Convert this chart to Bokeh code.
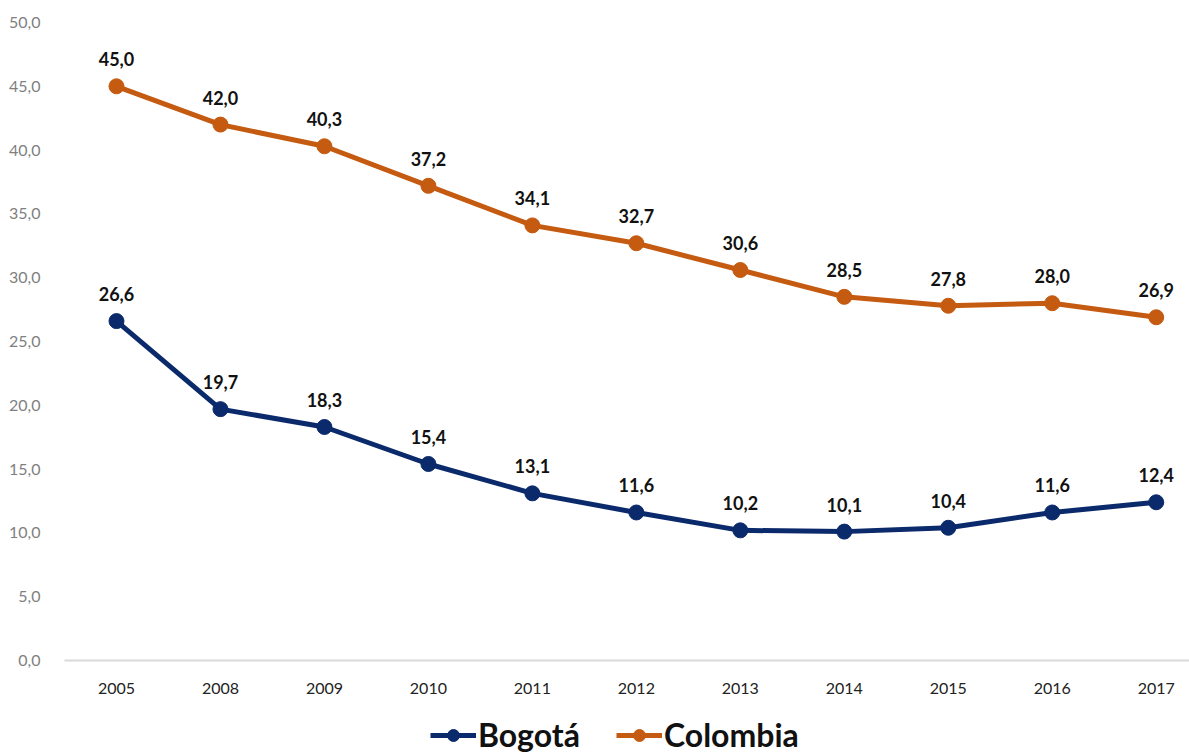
from bokeh.plotting import figure
from bokeh.layouts import column
from bokeh.models import ColumnDataSource, Legend, LegendItem, FixedTicker, Range1d
from bokeh.core.properties import value
from bokeh.embed import file_html
from bokeh.resources import INLINE

years = ["2005", "2008", "2009", "2010", "2011", "2012", "2013", "2014", "2015", "2016", "2017"]
bogota = [26.6, 19.7, 18.3, 15.4, 13.1, 11.6, 10.2, 10.1, 10.4, 11.6, 12.4]
colombia = [45.0, 42.0, 40.3, 37.2, 34.1, 32.7, 30.6, 28.5, 27.8, 28.0, 26.9]
y_ticks = [0, 5, 10, 15, 20, 25, 30, 35, 40, 45, 50]
series_names = ["Bogotá", "Colombia"]

NAVY = "#0b2a6b"
ORANGE = "#c55a11"
FONT = "Lato"

def fmt(v):
    return f"{v:.1f}".replace(".", ",")

xs = list(range(len(years)))

p = figure(width=1189, height=696, output_backend="svg", toolbar_location=None,
           x_range=Range1d(-0.5, 10.32), y_range=Range1d(0, 50),
           min_border_left=64, min_border_right=0, min_border_top=22, min_border_bottom=0)
p.outline_line_color = None
p.xgrid.visible = False
p.ygrid.visible = False
p.background_fill_color = "white"
p.border_fill_color = "white"

src_b = ColumnDataSource(dict(x=xs, y=bogota, lab=[fmt(v) for v in bogota]))
src_c = ColumnDataSource(dict(x=xs, y=colombia, lab=[fmt(v) for v in colombia]))

p.line("x", "y", source=src_b, line_color=NAVY, line_width=5)
p.scatter("x", "y", source=src_b, size=15, fill_color=NAVY, line_color=NAVY)
p.line("x", "y", source=src_c, line_color=ORANGE, line_width=5)
p.scatter("x", "y", source=src_c, size=15, fill_color=ORANGE, line_color=ORANGE)

for src in (src_b, src_c):
    p.text("x", "y", text="lab", source=src, text_align="center", text_baseline="middle",
           y_offset=-27, text_font=value(FONT), text_font_style="bold",
           text_font_size="18px", text_color="#111111")

# axes
p.xaxis.ticker = FixedTicker(ticks=xs)
p.xaxis.major_label_overrides = {i: y for i, y in enumerate(years)}
p.xaxis.major_tick_line_color = None
p.xaxis.minor_tick_line_color = None
p.xaxis.axis_line_color = "#d9d9d9"
p.xaxis.axis_line_width = 2
p.xaxis.major_label_text_font = FONT
p.xaxis.major_label_text_font_size = "16px"
p.xaxis.major_label_text_color = "#222222"
p.xaxis.major_label_standoff = 16

p.yaxis.ticker = FixedTicker(ticks=y_ticks)
p.yaxis.major_label_overrides = {t: fmt(t) for t in y_ticks}
p.yaxis.major_tick_line_color = None
p.yaxis.minor_tick_line_color = None
p.yaxis.axis_line_color = None
p.yaxis.major_label_text_font = FONT
p.yaxis.major_label_text_font_size = "16px"
p.yaxis.major_label_text_color = "#7f7f7f"
p.yaxis.major_label_standoff = 18

# legend strip
lg = figure(width=1189, height=58, output_backend="svg", toolbar_location=None,
            x_range=Range1d(0, 1), y_range=Range1d(0, 1),
            min_border=0, x_axis_location=None, y_axis_location=None)
lg.outline_line_color = None
lg.xgrid.visible = False
lg.ygrid.visible = False
items = []
for name, col in zip(series_names, (NAVY, ORANGE)):
    dummy = ColumnDataSource(dict(x=[float("nan")], y=[float("nan")]))
    l = lg.line("x", "y", source=dummy, line_color=col, line_width=5)
    m = lg.scatter("x", "y", source=dummy, size=13, fill_color=col, line_color=col)
    items.append(LegendItem(label=name, renderers=[l, m]))
legend = Legend(items=items, orientation="horizontal", location=(366, 0),
                label_text_font=FONT, label_text_font_style="bold",
                label_text_font_size="32px", label_text_color="#111111",
                glyph_width=46, glyph_height=30, spacing=36, label_standoff=2,
                border_line_color=None, background_fill_alpha=0,
                padding=0, margin=0)
lg.add_layout(legend)

open("out.html", "w").write(file_html(column(p, lg, spacing=0), INLINE))
